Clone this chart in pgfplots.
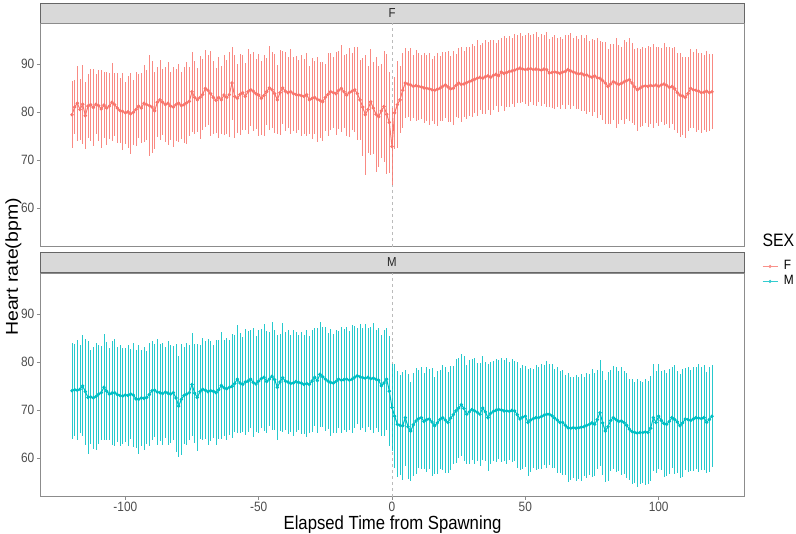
\documentclass[border=0pt]{standalone}
\usepackage{pgfplots}
\pgfplotsset{compat=1.18}
\usepackage{pgfplotstable}
\usepackage{fontspec}
\setmainfont{Liberation Sans}[FakeStretch=0.88]
\newfontfamily\plainsans{Liberation Sans}
\definecolor{Fc}{HTML}{F8766D}
\definecolor{Mc}{HTML}{00BFC4}
\definecolor{bordc}{HTML}{8C8C8C}
\definecolor{stripc}{HTML}{D9D9D9}
\definecolor{stripb}{HTML}{666666}
\definecolor{tickc}{HTML}{4D4D4D}
\definecolor{vlinec}{HTML}{BBBBBB}

\pgfplotstableread{
x m e
-120 79.4 7.0
-119 81.0 5.6
-118 81.8 7.8
-117 80.5 6.4
-116 81.6 8.2
-115 79.2 7.0
-114 81.2 6.6
-113 81.5 7.5
-112 80.9 8.0
-111 81.6 6.3
-110 81.3 7.4
-109 80.6 8.2
-108 81.4 6.8
-107 80.8 7.6
-106 81.2 6.9
-105 82.0 8.1
-104 81.5 6.5
-103 80.8 7.3
-102 80.3 6.8
-101 80.1 8.0
-100 79.8 6.4
-99 80.0 7.5
-98 79.6 8.4
-97 79.9 6.8
-96 80.5 7.7
-95 81.2 6.6
-94 80.8 7.2
-93 81.8 8.0
-92 81.5 7.3
-91 81.3 10.5
-90 81.0 9.5
-89 80.2 8.0
-88 82.0 7.3
-87 82.5 8.3
-86 82.0 6.9
-85 81.5 7.8
-84 81.8 8.6
-83 81.2 7.0
-82 81.0 8.4
-81 81.5 7.5
-80 81.8 8.1
-79 81.3 6.9
-78 81.5 7.9
-77 81.9 8.5
-76 82.2 7.2
-75 84.2 8.3
-74 83.0 7.6
-73 82.5 6.7
-72 83.0 8.6
-71 83.6 7.4
-70 84.9 8.0
-69 84.5 7.3
-68 83.8 8.8
-67 83.0 7.6
-66 82.4 6.8
-65 83.0 8.5
-64 82.5 7.1
-63 83.5 8.3
-62 83.0 7.7
-61 83.6 8.9
-60 86.0 7.6
-59 83.2 8.7
-58 82.8 7.2
-57 83.6 8.4
-56 84.0 7.8
-55 83.2 6.9
-54 84.2 8.8
-53 84.6 7.5
-52 84.3 8.2
-51 83.8 7.3
-50 83.5 8.6
-49 82.8 7.7
-48 83.4 8.4
-47 84.2 7.0
-46 85.0 8.7
-45 84.6 7.9
-44 83.8 8.3
-43 82.5 7.2
-42 84.0 8.9
-41 85.0 7.6
-40 84.3 8.2
-39 84.0 7.4
-38 84.2 8.8
-37 83.8 7.7
-36 83.6 8.0
-35 83.5 7.2
-34 83.4 8.5
-33 83.2 7.8
-32 83.6 8.6
-31 82.5 7.1
-30 82.8 8.4
-29 83.0 7.6
-28 82.6 8.9
-27 82.4 7.9
-26 82.1 8.2
-25 83.0 7.0
-24 83.6 8.7
-23 84.2 8.0
-22 84.0 7.4
-21 83.8 8.6
-20 84.5 8.1
-19 84.9 9.0
-18 84.2 7.6
-17 83.5 8.5
-16 84.0 9.3
-15 84.3 8.0
-14 84.6 8.8
-13 83.8 9.6
-12 82.5 8.4
-11 81.0 10.2
-10 79.4 12.5
-9 80.5 9.0
-8 82.1 11.0
-7 80.8 9.5
-6 79.5 12.0
-5 79.0 10.5
-4 80.2 9.8
-3 81.1 11.5
-2 79.5 12.5
-1 77.8 10.5
0 72.8 8.0
1 79.8 7.5
2 81.5 9.0
3 82.5 7.0
4 84.5 7.8
5 86.0 7.2
6 85.8 6.8
7 85.6 7.6
8 85.3 6.5
9 85.5 7.4
10 85.3 7.0
11 85.2 6.6
12 85.0 7.3
13 84.9 6.9
14 84.8 7.5
15 84.6 6.4
16 84.5 7.1
17 84.7 7.6
18 84.9 6.7
19 85.3 7.2
20 85.6 6.8
21 85.2 7.4
22 84.8 6.9
23 84.9 7.7
24 85.5 6.5
25 86.0 7.3
26 85.7 7.8
27 85.8 6.9
28 86.1 7.5
29 86.3 7.1
30 86.5 7.6
31 86.8 7.0
32 87.0 7.9
33 87.2 6.8
34 87.0 7.4
35 87.3 7.7
36 87.5 7.1
37 87.2 7.8
38 87.6 7.3
39 87.8 6.6
40 87.5 7.5
41 88.3 7.0
42 88.0 7.8
43 88.2 7.2
44 88.4 7.4
45 88.5 6.9
46 88.7 7.6
47 88.9 7.1
48 89.1 7.3
49 88.9 6.8
50 88.8 7.2
51 88.9 7.6
52 89.0 7.0
53 88.8 7.4
54 88.9 7.7
55 88.8 6.8
56 88.7 7.5
57 88.9 7.2
58 88.8 7.8
59 88.1 7.0
60 88.2 7.4
61 88.3 7.8
62 88.2 7.1
63 88.0 7.5
64 88.3 6.9
65 88.4 7.7
66 88.8 7.3
67 88.5 7.9
68 88.3 7.0
69 88.1 7.6
70 87.9 7.3
71 88.0 7.9
72 87.7 7.6
73 87.7 8.2
74 87.4 7.4
75 87.2 8.0
76 87.5 7.5
77 87.1 8.3
78 87.0 7.7
79 86.5 8.1
80 86.0 8.5
81 85.3 7.8
82 85.8 8.3
83 86.3 7.9
84 86.0 9.3
85 85.7 8.2
86 85.9 7.6
87 86.2 8.8
88 86.5 8.0
89 86.7 8.7
90 86.0 8.4
91 85.2 7.9
92 84.6 8.6
93 84.9 8.1
94 85.3 8.3
95 85.4 7.8
96 85.3 8.5
97 85.5 8.0
98 85.4 8.7
99 85.6 7.9
100 85.3 8.2
101 85.6 7.7
102 85.8 8.5
103 85.5 8.0
104 85.1 8.4
105 85.3 7.9
106 84.8 8.6
107 84.0 8.3
108 83.5 8.8
109 83.3 8.1
110 83.0 8.5
111 83.8 7.7
112 84.9 8.2
113 84.6 7.9
114 84.5 8.6
115 84.3 8.0
116 84.0 8.3
117 84.1 7.8
118 84.3 8.4
119 84.0 8.0
120 84.2 7.8
}\Ftab

\pgfplotstableread{
x m e
-120 74.0 10.0
-119 74.2 9.6
-118 74.1 10.4
-117 74.3 9.2
-116 75.0 10.5
-115 73.8 11.0
-114 72.6 11.8
-113 72.7 9.7
-112 72.5 10.6
-111 72.8 11.2
-110 73.3 10.3
-109 73.6 9.8
-108 74.7 11.0
-107 73.9 10.2
-106 73.3 9.6
-105 73.5 10.8
-104 73.6 11.2
-103 73.2 9.9
-102 73.0 10.5
-101 72.9 10.0
-100 73.1 9.8
-99 73.0 10.6
-98 73.3 9.4
-97 73.1 10.9
-96 72.3 10.2
-95 72.2 11.4
-94 72.5 10.0
-93 72.4 10.7
-92 72.6 9.6
-91 73.2 10.8
-90 74.0 10.3
-89 74.1 9.7
-88 73.7 11.0
-87 73.6 10.1
-86 73.4 10.6
-85 73.7 9.5
-84 73.5 10.9
-83 73.3 10.2
-82 73.6 9.8
-81 72.5 11.3
-80 70.8 10.5
-79 72.2 11.5
-78 73.0 10.0
-77 73.3 10.7
-76 73.6 9.9
-75 75.3 10.8
-74 73.5 10.3
-73 72.6 11.1
-72 73.8 9.8
-71 74.3 10.6
-70 74.1 10.2
-69 73.8 11.0
-68 74.0 10.4
-67 73.9 9.7
-66 73.6 10.9
-65 74.2 10.3
-64 75.1 11.2
-63 74.6 10.0
-62 74.4 10.6
-61 74.7 9.9
-60 74.9 10.8
-59 75.5 10.1
-58 76.4 11.3
-57 75.6 10.4
-56 75.3 9.9
-55 75.8 11.0
-54 76.0 10.5
-53 76.4 10.2
-52 75.7 11.4
-51 75.4 10.0
-50 76.0 10.7
-49 76.5 10.3
-48 76.8 11.1
-47 75.9 10.6
-46 76.4 9.8
-45 77.0 11.2
-44 76.3 10.4
-43 74.7 10.9
-42 75.8 10.1
-41 76.7 11.3
-40 76.0 10.2
-39 75.8 10.8
-38 75.5 10.0
-37 75.6 11.0
-36 75.9 10.4
-35 75.7 9.9
-34 75.6 10.7
-33 75.3 10.3
-32 75.5 11.2
-31 75.3 10.1
-30 76.0 10.6
-29 76.8 10.2
-28 76.1 10.9
-27 77.4 11.0
-26 76.9 10.4
-25 76.4 10.8
-24 76.0 10.0
-23 75.7 11.1
-22 75.6 10.3
-21 75.9 10.7
-20 76.4 10.1
-19 76.2 11.0
-18 76.3 10.5
-17 76.4 10.9
-16 76.2 10.3
-15 76.4 11.2
-14 76.8 10.6
-13 77.1 10.0
-12 76.9 11.0
-11 76.7 10.4
-10 76.6 11.2
-9 76.8 10.3
-8 76.5 10.7
-7 76.6 11.4
-6 76.4 10.2
-5 76.2 10.8
-4 75.0 10.5
-3 75.6 11.0
-2 76.4 10.6
-1 73.9 11.5
0 70.5 9.0
1 68.7 10.8
2 67.0 11.0
3 66.8 10.4
4 66.7 11.2
5 68.4 10.0
6 66.5 10.9
7 65.6 10.3
8 66.9 10.7
9 67.7 11.1
10 68.2 10.2
11 68.4 10.6
12 67.6 10.0
13 68.0 10.9
14 68.1 10.4
15 67.5 11.2
16 66.7 10.1
17 67.3 10.7
18 68.0 10.3
19 68.4 10.9
20 67.9 11.1
21 67.4 10.5
22 68.3 10.8
23 69.0 10.2
24 69.8 10.9
25 70.4 10.4
26 71.1 10.6
27 70.3 11.0
28 69.1 10.3
29 69.6 10.8
30 70.1 10.5
31 69.8 11.0
32 69.5 10.2
33 69.1 10.7
34 70.4 10.9
35 69.6 10.3
36 68.4 11.2
37 69.3 10.6
38 69.7 10.4
39 69.9 10.8
40 70.1 10.3
41 70.0 10.9
42 69.8 10.5
43 69.8 11.1
44 69.7 10.2
45 69.9 10.7
46 69.8 10.4
47 69.0 11.0
48 68.1 10.6
49 68.5 10.9
50 68.7 10.5
51 67.4 11.2
52 67.9 10.8
53 68.2 10.3
54 68.4 11.0
55 68.4 10.6
56 68.6 10.9
57 68.9 10.4
58 69.1 11.1
59 69.1 10.5
60 68.8 10.8
61 68.3 10.3
62 67.9 11.1
63 67.4 10.6
64 67.4 10.9
65 66.8 10.4
66 66.3 11.3
67 66.2 10.7
68 66.3 10.5
69 66.2 11.0
70 66.3 10.6
71 66.4 11.1
72 66.5 10.3
73 66.8 10.9
74 67.0 10.5
75 67.3 11.2
76 67.0 10.7
77 68.0 10.4
78 69.4 11.0
79 67.3 10.8
80 65.6 10.6
81 66.5 11.3
82 67.8 10.5
83 68.4 10.8
84 68.0 11.0
85 67.6 10.4
86 67.7 11.2
87 67.4 10.7
88 66.8 10.9
89 66.0 10.5
90 65.5 11.0
91 65.3 10.6
92 65.2 11.3
93 65.3 10.8
94 65.3 10.5
95 65.4 11.1
96 65.3 10.7
97 66.2 10.9
98 68.4 11.2
99 67.4 10.6
100 68.7 10.9
101 67.8 10.4
102 67.2 11.1
103 67.0 10.7
104 67.6 11.0
105 68.4 10.5
106 68.0 11.3
107 67.5 10.6
108 66.7 10.8
109 67.3 11.2
110 68.1 10.7
111 68.0 11.0
112 67.8 10.5
113 68.1 10.9
114 68.4 10.6
115 68.3 11.2
116 68.2 10.8
117 68.4 11.0
118 67.4 10.5
119 68.0 10.9
120 68.7 10.6
}\Mtab

\pgfplotsset{
  panel/.style={
    scale only axis, width=704pt, height=223.7pt,
    xmin=-132, xmax=132, ymin=51.94, ymax=98.5,
    axis line style={draw=bordc, line width=0.6pt},
    ytick={60,70,80,90},
    ytick pos=left,
    tick align=outside,
    major tick length=3pt,
    every tick/.style={draw=bordc, line width=0.6pt},
    tick label style={font=\fontsize{13.5}{15}\selectfont, text=tickc},
    yticklabel style={inner sep=0pt, xshift=-2.5pt},
    xticklabel style={inner sep=0pt, yshift=-2.5pt},
    /pgf/number format/assume math mode=true,
    clip=true,
  },
  ebars/.style={
    draw=none, mark=none,
    error bars/y dir=both, error bars/y explicit, error bars/error mark=none,
    error bars/error bar style={draw=#1, line width=0.9pt, opacity=0.85},
  },
  meanline/.style={
    #1, mark=*, mark size=1.2pt, line width=1.0pt, mark options={solid, fill=#1},
  },
}

\begin{document}
\begin{tikzpicture}[x=1pt,y=1pt]
\useasboundingbox (0,0) rectangle (796,534);

% top strip
\fill[stripc] (40,511) rectangle (744,531);
\draw[stripb, line width=0.6pt] (40,511) rectangle (744,531);
\node[font=\fontsize{13}{15}\selectfont, text=black!85] at (392,521) {F};
% bottom strip
\fill[stripc] (40,261.7) rectangle (744,281.7);
\draw[stripb, line width=0.6pt] (40,261.7) rectangle (744,281.7);
\node[font=\fontsize{13}{15}\selectfont, text=black!85] at (392,271.7) {M};

% top panel (F)
\begin{axis}[panel, at={(40pt,287.3pt)}, anchor=south west, xtick=\empty]
\addplot[vlinec, line width=0.5pt, dash pattern=on 3pt off 3pt, forget plot] coordinates {(0,51.94) (0,98.5)};
\addplot[forget plot, ebars=Fc] table[x=x, y=m, y error=e] {\Ftab};
\addplot[forget plot, meanline=Fc] table[x=x, y=m] {\Ftab};
\end{axis}

% bottom panel (M)
\begin{axis}[panel, at={(40pt,37.3pt)}, anchor=south west,
  xtick={-100,-50,0,50,100}, xtick pos=bottom,
  legend style={at={(1.0256,1.0637)}, anchor=north west, draw=none, fill=none,
    font=\fontsize{13.5}{15}\selectfont, inner sep=0pt, row sep=0pt,
    nodes={inner ysep=1.5pt, inner xsep=0pt, text height=9pt, text depth=3pt},
    /tikz/every odd column/.append style={column sep=6pt}},
  legend cell align=left,
  legend image code/.code={\draw[mark repeat=2, mark phase=2, #1] plot coordinates {(0pt,0pt) (7.5pt,0pt) (15pt,0pt)};},
]
\addplot[vlinec, line width=0.5pt, dash pattern=on 3pt off 3pt, forget plot] coordinates {(0,51.94) (0,98.5)};
\addplot[forget plot, ebars=Mc] table[x=x, y=m, y error=e] {\Mtab};
\addplot[forget plot, meanline=Mc] table[x=x, y=m] {\Mtab};
\addlegendimage{Fc!80, mark=*, mark size=1.2pt, line width=0.7pt}
\addlegendentry{F}
\addlegendimage{Mc!80, mark=*, mark size=1.2pt, line width=0.7pt}
\addlegendentry{M}
\end{axis}

% titles
\node[anchor=west, font=\fontsize{18}{20}\selectfont] at (759,294) {SEX};
\node[anchor=base, inner sep=0pt, font=\fontsize{19}{21}\selectfont] at (392.5,4.5) {Elapsed Time from Spawning};
\node[rotate=90, font=\plainsans\fontsize{19.5}{21}\selectfont] at (13.5,267) {\scalebox{1}[0.88]{Heart rate(bpm)}};
\end{tikzpicture}
\end{document}
